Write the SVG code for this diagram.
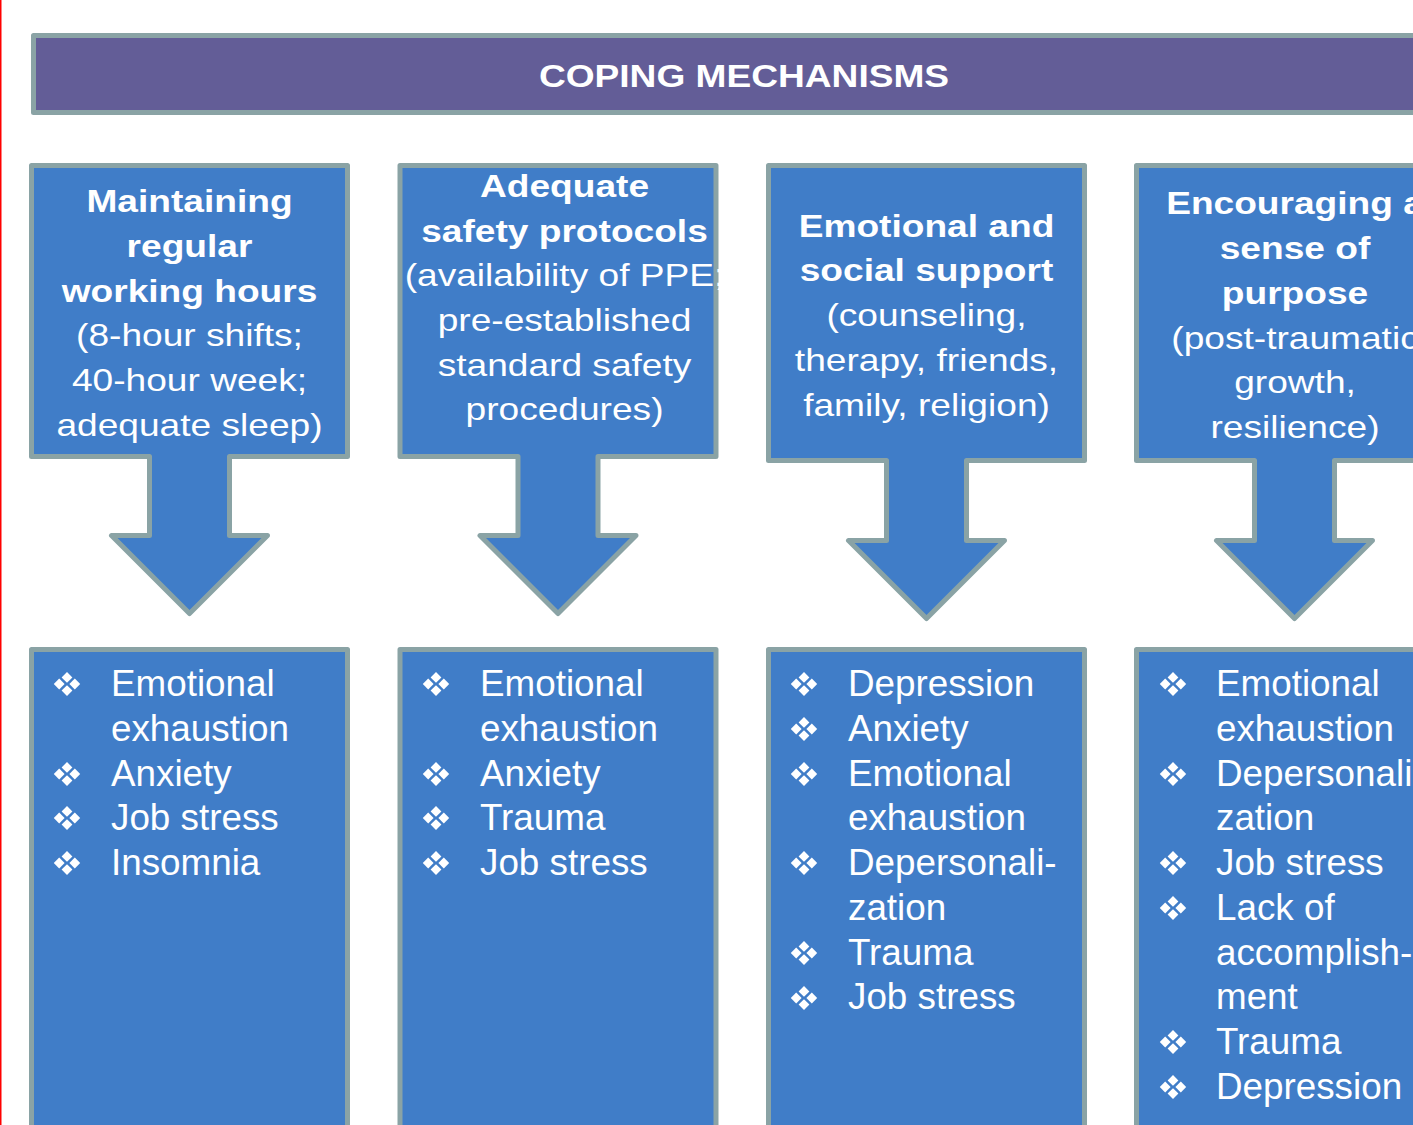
<svg xmlns="http://www.w3.org/2000/svg" width="1413" height="1125" viewBox="0 0 1413 1125">
  <defs>
    <style>
      .frame { stroke: #8AA3A5; stroke-width: 5; stroke-linejoin: round; }
      .box { fill: #407DC8; }
      .bar { fill: #635D97; }
      .head { font-family: "Liberation Sans", Arial, sans-serif; font-size: 32px; font-weight: bold; fill: #FFFFFF; text-anchor: middle; }
      .title { font-family: "Liberation Sans", Arial, sans-serif; font-size: 32px; fill: #FFFFFF; text-anchor: middle; }
      .title .b { font-weight: bold; }
      .item { font-family: "Liberation Sans", Arial, sans-serif; font-size: 36.8px; fill: #FFFFFF; }
    </style>
    <!-- four-diamond bullet -->
    <g id="bullet" fill="#FFFFFF">
      <path d="M0,-12 L5.4,-6.6 L0,-1.2 L-5.4,-6.6 Z"/>
      <path d="M0,1.2 L5.4,6.6 L0,12 L-5.4,6.6 Z"/>
      <path d="M-7.8,-5.4 L-2.4,0 L-7.8,5.4 L-13.2,0 Z"/>
      <path d="M7.8,-5.4 L13.2,0 L7.8,5.4 L2.4,0 Z"/>
    </g>
    <!-- box with downward arrow, two heights -->
    <path id="boxArrowA" d="M2.5,2.5 H318.5 V293.5 H200.5 V372.5 H238.5 L160.5,450.5 L82.5,372.5 H120.5 V293.5 H2.5 Z"/>
    <path id="boxArrowB" d="M2.5,2.5 H318.5 V297.5 H200.5 V377.5 H238.5 L160.5,455.5 L82.5,377.5 H120.5 V297.5 H2.5 Z"/>
  </defs>

  <rect x="0" y="0" width="1413" height="1125" fill="#FFFFFF"/>
  <rect x="0" y="0" width="1.5" height="1125" fill="#FF0000"/>

  <!-- header bar -->
  <g id="header">
    <rect class="bar frame" x="33.5" y="35.5" width="1400" height="77"/>
    <text class="head" transform="translate(744 87) scale(1.16 1)" x="0" y="0">COPING MECHANISMS</text>
  </g>

  <!-- top boxes with their arrows -->
  <g id="connectors">
    <use href="#boxArrowA" class="box frame" transform="translate(29 163)"/>
    <use href="#boxArrowA" class="box frame" transform="translate(397.5 163)"/>
    <use href="#boxArrowB" class="box frame" transform="translate(766 163)"/>
    <use href="#boxArrowB" class="box frame" transform="translate(1134 163)"/>
  </g>

  <g id="mech-hours">
    <g class="title" transform="translate(189.5 0) scale(1.16 1)">
      <text class="b" x="0" y="212">Maintaining</text>
      <text class="b" x="0" y="257">regular</text>
      <text class="b" x="0" y="302">working hours</text>
      <text x="0" y="346">(8-hour shifts;</text>
      <text x="0" y="391">40-hour week;</text>
      <text x="0" y="436">adequate sleep)</text>
    </g>
  </g>

  <g id="mech-safety">
    <g class="title" transform="translate(564.5 0) scale(1.16 1)">
      <text class="b" x="0" y="197">Adequate</text>
      <text class="b" x="0" y="242">safety protocols</text>
      <text x="0" y="286">(availability of PPE;</text>
      <text x="0" y="331">pre-established</text>
      <text x="0" y="376">standard safety</text>
      <text x="0" y="420">procedures)</text>
    </g>
  </g>

  <g id="mech-support">
    <g class="title" transform="translate(926.5 0) scale(1.16 1)">
      <text class="b" x="0" y="237">Emotional and</text>
      <text class="b" x="0" y="281">social support</text>
      <text x="0" y="326">(counseling,</text>
      <text x="0" y="371">therapy, friends,</text>
      <text x="0" y="416">family, religion)</text>
    </g>
  </g>

  <g id="mech-purpose">
    <g class="title" transform="translate(1295 0) scale(1.16 1)">
      <text class="b" x="0" y="214">Encouraging a</text>
      <text class="b" x="0" y="259">sense of</text>
      <text class="b" x="0" y="304">purpose</text>
      <text x="0" y="349">(post-traumatic</text>
      <text x="0" y="393">growth,</text>
      <text x="0" y="438">resilience)</text>
    </g>
  </g>

  <!-- outcome lists -->
  <g id="list-hours">
    <rect class="box frame" x="31.5" y="649.5" width="316" height="500"/>
    <use href="#bullet" x="67" y="684"/>
    <use href="#bullet" x="67" y="774"/>
    <use href="#bullet" x="67" y="818"/>
    <use href="#bullet" x="67" y="863"/>
    <text class="item" x="111" y="696">Emotional</text>
    <text class="item" x="111" y="741">exhaustion</text>
    <text class="item" x="111" y="786">Anxiety</text>
    <text class="item" x="111" y="830">Job stress</text>
    <text class="item" x="111" y="875">Insomnia</text>
  </g>

  <g id="list-safety">
    <rect class="box frame" x="400" y="649.5" width="316" height="500"/>
    <use href="#bullet" x="436" y="684"/>
    <use href="#bullet" x="436" y="774"/>
    <use href="#bullet" x="436" y="818"/>
    <use href="#bullet" x="436" y="863"/>
    <text class="item" x="480" y="696">Emotional</text>
    <text class="item" x="480" y="741">exhaustion</text>
    <text class="item" x="480" y="786">Anxiety</text>
    <text class="item" x="480" y="830">Trauma</text>
    <text class="item" x="480" y="875">Job stress</text>
  </g>

  <g id="list-support">
    <rect class="box frame" x="768.5" y="649.5" width="316" height="500"/>
    <use href="#bullet" x="804" y="684"/>
    <use href="#bullet" x="804" y="729"/>
    <use href="#bullet" x="804" y="774"/>
    <use href="#bullet" x="804" y="863"/>
    <use href="#bullet" x="804" y="953"/>
    <use href="#bullet" x="804" y="998"/>
    <text class="item" x="848" y="696">Depression</text>
    <text class="item" x="848" y="741">Anxiety</text>
    <text class="item" x="848" y="786">Emotional</text>
    <text class="item" x="848" y="830">exhaustion</text>
    <text class="item" x="848" y="875">Depersonali-</text>
    <text class="item" x="848" y="920">zation</text>
    <text class="item" x="848" y="965">Trauma</text>
    <text class="item" x="848" y="1009">Job stress</text>
  </g>

  <g id="list-purpose">
    <rect class="box frame" x="1136.5" y="649.5" width="316" height="500"/>
    <use href="#bullet" x="1173" y="684"/>
    <use href="#bullet" x="1173" y="774"/>
    <use href="#bullet" x="1173" y="863"/>
    <use href="#bullet" x="1173" y="908"/>
    <use href="#bullet" x="1173" y="1042"/>
    <use href="#bullet" x="1173" y="1087"/>
    <text class="item" x="1216" y="696">Emotional</text>
    <text class="item" x="1216" y="741">exhaustion</text>
    <text class="item" x="1216" y="786">Depersonali-</text>
    <text class="item" x="1216" y="830">zation</text>
    <text class="item" x="1216" y="875">Job stress</text>
    <text class="item" x="1216" y="920">Lack of</text>
    <text class="item" x="1216" y="965">accomplish-</text>
    <text class="item" x="1216" y="1009">ment</text>
    <text class="item" x="1216" y="1054">Trauma</text>
    <text class="item" x="1216" y="1099">Depression</text>
  </g>
</svg>
